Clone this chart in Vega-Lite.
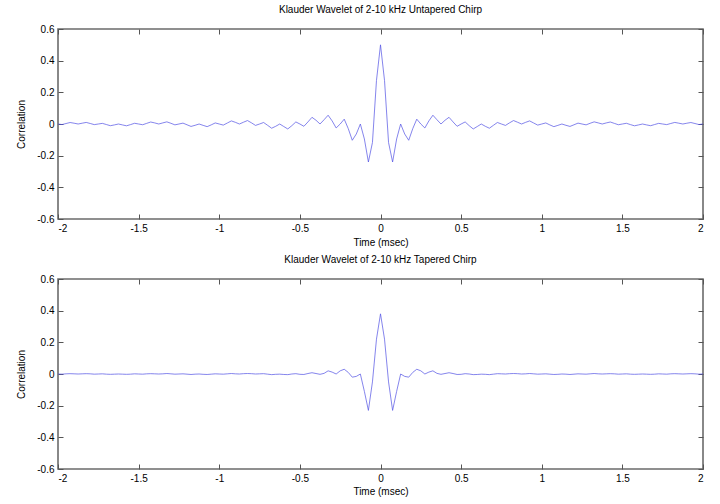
{
  "$schema": "https://vega.github.io/schema/vega-lite/v6.json",
  "background": "white",
  "padding": {"left": 15, "top": 4, "right": 0, "bottom": 0},
  "spacing": 6,
  "config": {
    "font": "Liberation Sans",
    "view": {"stroke": "#6b6b6b", "strokeWidth": 1.6},
    "axis": {
      "domain": false,
      "grid": false,
      "ticks": true,
      "tickSize": -5,
      "tickColor": "#555555",
      "tickWidth": 1,
      "labelPadding": 9,
      "labelFontSize": 10,
      "labelColor": "#000000",
      "labelFont": "Liberation Sans",
      "titleFont": "Liberation Sans",
      "titleFontSize": 10,
      "titleFontWeight": "normal",
      "titleColor": "#000000"
    },
    "title": {"fontSize": 10, "fontWeight": "normal", "font": "Liberation Sans", "offset": 9}
  },
  "datasets": {
    "wave": [
      {"t": -2, "u": 0, "p": 0},
      {"t": -1.975, "u": -0.0035, "p": -0.001},
      {"t": -1.95, "u": 0.003, "p": 0.001},
      {"t": -1.925, "u": 0.0093, "p": 0.002},
      {"t": -1.9, "u": 0.005, "p": 0.001},
      {"t": -1.875, "u": 0, "p": 0},
      {"t": -1.85, "u": 0.0051, "p": 0.001},
      {"t": -1.825, "u": 0.0099, "p": 0.002},
      {"t": -1.8, "u": 0.0032, "p": 0.001},
      {"t": -1.775, "u": -0.0039, "p": -0.001},
      {"t": -1.75, "u": 0, "p": 0},
      {"t": -1.725, "u": 0.004, "p": 0.001},
      {"t": -1.7, "u": -0.0034, "p": -0.001},
      {"t": -1.675, "u": -0.0107, "p": -0.002},
      {"t": -1.65, "u": -0.0057, "p": -0.001},
      {"t": -1.625, "u": 0, "p": 0},
      {"t": -1.6, "u": -0.0059, "p": -0.001},
      {"t": -1.575, "u": -0.0114, "p": -0.002},
      {"t": -1.55, "u": -0.0038, "p": -0.001},
      {"t": -1.525, "u": 0.0045, "p": 0.001},
      {"t": -1.5, "u": 0, "p": 0},
      {"t": -1.475, "u": -0.0047, "p": -0.001},
      {"t": -1.45, "u": 0.004, "p": 0.001},
      {"t": -1.425, "u": 0.0126, "p": 0.002},
      {"t": -1.4, "u": 0.0068, "p": 0.001},
      {"t": -1.375, "u": 0, "p": 0},
      {"t": -1.35, "u": 0.007, "p": 0.001},
      {"t": -1.325, "u": 0.0136, "p": 0.003},
      {"t": -1.3, "u": 0.0045, "p": 0.001},
      {"t": -1.275, "u": -0.0054, "p": -0.001},
      {"t": -1.25, "u": 0, "p": 0},
      {"t": -1.225, "u": 0.0056, "p": 0.001},
      {"t": -1.2, "u": -0.0049, "p": -0.001},
      {"t": -1.175, "u": -0.0153, "p": -0.003},
      {"t": -1.15, "u": -0.0082, "p": -0.001},
      {"t": -1.125, "u": 0, "p": 0},
      {"t": -1.1, "u": -0.0086, "p": -0.002},
      {"t": -1.075, "u": -0.0167, "p": -0.003},
      {"t": -1.05, "u": -0.0056, "p": -0.001},
      {"t": -1.025, "u": 0.0067, "p": 0.001},
      {"t": -1, "u": 0, "p": 0},
      {"t": -0.975, "u": -0.007, "p": -0.001},
      {"t": -0.95, "u": 0.0062, "p": 0.001},
      {"t": -0.925, "u": 0.0195, "p": 0.003},
      {"t": -0.9, "u": 0.0105, "p": 0.001},
      {"t": -0.875, "u": 0, "p": 0},
      {"t": -0.85, "u": 0.0111, "p": 0.002},
      {"t": -0.825, "u": 0.0218, "p": 0.003},
      {"t": -0.8, "u": 0.0073, "p": 0.002},
      {"t": -0.775, "u": -0.0089, "p": 0},
      {"t": -0.75, "u": 0, "p": 0.001},
      {"t": -0.725, "u": 0.0095, "p": 0.002},
      {"t": -0.7, "u": -0.0084, "p": -0.001},
      {"t": -0.675, "u": -0.0267, "p": -0.004},
      {"t": -0.65, "u": -0.0146, "p": -0.002},
      {"t": -0.625, "u": 0, "p": -0.001},
      {"t": -0.6, "u": -0.0158, "p": -0.003},
      {"t": -0.575, "u": -0.0313, "p": -0.004},
      {"t": -0.55, "u": -0.0106, "p": 0},
      {"t": -0.525, "u": 0.0131, "p": 0.002},
      {"t": -0.5, "u": 0, "p": -0.002},
      {"t": -0.475, "u": -0.0145, "p": -0.003},
      {"t": -0.45, "u": 0.013, "p": 0.003},
      {"t": -0.425, "u": 0.0423, "p": 0.008},
      {"t": -0.4, "u": 0.0236, "p": 0.003},
      {"t": -0.375, "u": 0, "p": -0.002},
      {"t": -0.35, "u": 0.027, "p": 0.004},
      {"t": -0.325, "u": 0.0554, "p": 0.02},
      {"t": -0.3, "u": 0.0195, "p": 0.012},
      {"t": -0.275, "u": -0.025, "p": 0},
      {"t": -0.25, "u": 0, "p": 0.02},
      {"t": -0.225, "u": 0.0305, "p": 0.03},
      {"t": -0.2, "u": -0.0292, "p": 0.01},
      {"t": -0.175, "u": -0.1028, "p": -0.02},
      {"t": -0.15, "u": -0.0631, "p": -0.015},
      {"t": -0.125, "u": 0, "p": 0},
      {"t": -0.1, "u": -0.0946, "p": -0.11},
      {"t": -0.075, "u": -0.24, "p": -0.23},
      {"t": -0.05, "u": -0.117, "p": -0.05},
      {"t": -0.025, "u": 0.275, "p": 0.22},
      {"t": 0, "u": 0.5, "p": 0.38},
      {"t": 0.025, "u": 0.275, "p": 0.22},
      {"t": 0.05, "u": -0.117, "p": -0.05},
      {"t": 0.075, "u": -0.24, "p": -0.23},
      {"t": 0.1, "u": -0.0946, "p": -0.11},
      {"t": 0.125, "u": 0, "p": 0},
      {"t": 0.15, "u": -0.0631, "p": -0.015},
      {"t": 0.175, "u": -0.1028, "p": -0.02},
      {"t": 0.2, "u": -0.0292, "p": 0.01},
      {"t": 0.225, "u": 0.0305, "p": 0.03},
      {"t": 0.25, "u": 0, "p": 0.02},
      {"t": 0.275, "u": -0.025, "p": 0},
      {"t": 0.3, "u": 0.0195, "p": 0.012},
      {"t": 0.325, "u": 0.0554, "p": 0.02},
      {"t": 0.35, "u": 0.027, "p": 0.004},
      {"t": 0.375, "u": 0, "p": -0.002},
      {"t": 0.4, "u": 0.0236, "p": 0.003},
      {"t": 0.425, "u": 0.0423, "p": 0.008},
      {"t": 0.45, "u": 0.013, "p": 0.003},
      {"t": 0.475, "u": -0.0145, "p": -0.003},
      {"t": 0.5, "u": 0, "p": -0.002},
      {"t": 0.525, "u": 0.0131, "p": 0.002},
      {"t": 0.55, "u": -0.0106, "p": 0},
      {"t": 0.575, "u": -0.0313, "p": -0.004},
      {"t": 0.6, "u": -0.0158, "p": -0.003},
      {"t": 0.625, "u": 0, "p": -0.001},
      {"t": 0.65, "u": -0.0146, "p": -0.002},
      {"t": 0.675, "u": -0.0267, "p": -0.004},
      {"t": 0.7, "u": -0.0084, "p": -0.001},
      {"t": 0.725, "u": 0.0095, "p": 0.002},
      {"t": 0.75, "u": 0, "p": 0.001},
      {"t": 0.775, "u": -0.0089, "p": 0},
      {"t": 0.8, "u": 0.0073, "p": 0.002},
      {"t": 0.825, "u": 0.0218, "p": 0.003},
      {"t": 0.85, "u": 0.0111, "p": 0.002},
      {"t": 0.875, "u": 0, "p": 0},
      {"t": 0.9, "u": 0.0105, "p": 0.001},
      {"t": 0.925, "u": 0.0195, "p": 0.003},
      {"t": 0.95, "u": 0.0062, "p": 0.001},
      {"t": 0.975, "u": -0.007, "p": -0.001},
      {"t": 1, "u": 0, "p": 0},
      {"t": 1.025, "u": 0.0067, "p": 0.001},
      {"t": 1.05, "u": -0.0056, "p": -0.001},
      {"t": 1.075, "u": -0.0167, "p": -0.003},
      {"t": 1.1, "u": -0.0086, "p": -0.002},
      {"t": 1.125, "u": 0, "p": 0},
      {"t": 1.15, "u": -0.0082, "p": -0.001},
      {"t": 1.175, "u": -0.0153, "p": -0.003},
      {"t": 1.2, "u": -0.0049, "p": -0.001},
      {"t": 1.225, "u": 0.0056, "p": 0.001},
      {"t": 1.25, "u": 0, "p": 0},
      {"t": 1.275, "u": -0.0054, "p": -0.001},
      {"t": 1.3, "u": 0.0045, "p": 0.001},
      {"t": 1.325, "u": 0.0136, "p": 0.003},
      {"t": 1.35, "u": 0.007, "p": 0.001},
      {"t": 1.375, "u": 0, "p": 0},
      {"t": 1.4, "u": 0.0068, "p": 0.001},
      {"t": 1.425, "u": 0.0126, "p": 0.002},
      {"t": 1.45, "u": 0.004, "p": 0.001},
      {"t": 1.475, "u": -0.0047, "p": -0.001},
      {"t": 1.5, "u": 0, "p": 0},
      {"t": 1.525, "u": 0.0045, "p": 0.001},
      {"t": 1.55, "u": -0.0038, "p": -0.001},
      {"t": 1.575, "u": -0.0114, "p": -0.002},
      {"t": 1.6, "u": -0.0059, "p": -0.001},
      {"t": 1.625, "u": 0, "p": 0},
      {"t": 1.65, "u": -0.0057, "p": -0.001},
      {"t": 1.675, "u": -0.0107, "p": -0.002},
      {"t": 1.7, "u": -0.0034, "p": -0.001},
      {"t": 1.725, "u": 0.004, "p": 0.001},
      {"t": 1.75, "u": 0, "p": 0},
      {"t": 1.775, "u": -0.0039, "p": -0.001},
      {"t": 1.8, "u": 0.0032, "p": 0.001},
      {"t": 1.825, "u": 0.0099, "p": 0.002},
      {"t": 1.85, "u": 0.0051, "p": 0.001},
      {"t": 1.875, "u": 0, "p": 0},
      {"t": 1.9, "u": 0.005, "p": 0.001},
      {"t": 1.925, "u": 0.0093, "p": 0.002},
      {"t": 1.95, "u": 0.003, "p": 0.001},
      {"t": 1.975, "u": -0.0035, "p": -0.001},
      {"t": 2, "u": 0, "p": 0}
    ]
  },
  "vconcat": [
    {
      "title": "Klauder Wavelet of 2-10 kHz Untapered Chirp",
      "width": 645,
      "height": 190,
      "data": {"name": "wave"},
      "layer": [
        {
          "mark": {"type": "line", "color": "#5050e4", "strokeWidth": 0.7},
          "encoding": {
            "x": {"field": "t", "type": "quantitative", "scale": {"domain": [-2, 2], "nice": false},
                  "axis": {"orient": "bottom", "title": "Time (msec)", "titlePadding": 4, "labelFlush": true, "values": [-2, -1.5, -1, -0.5, 0, 0.5, 1, 1.5, 2], "labelExpr": "'' + datum.value"}},
            "y": {"field": "u", "type": "quantitative", "scale": {"domain": [-0.6, 0.6], "nice": false},
                  "axis": {"orient": "left", "title": "Correlation", "titlePadding": 10, "values": [-0.6, -0.4, -0.2, 0, 0.2, 0.4, 0.6], "labelExpr": "'' + datum.value"}}
          }
        },
        {
          "mark": {"type": "line", "opacity": 0},
          "encoding": {
            "x": {"field": "t", "type": "quantitative", "scale": {"domain": [-2, 2], "nice": false},
                  "axis": {"orient": "top", "labels": false, "title": null, "values": [-2, -1.5, -1, -0.5, 0, 0.5, 1, 1.5, 2]}},
            "y": {"field": "u", "type": "quantitative", "scale": {"domain": [-0.6, 0.6], "nice": false},
                  "axis": {"orient": "right", "labels": false, "title": null, "values": [-0.6, -0.4, -0.2, 0, 0.2, 0.4, 0.6]}}
          }
        }
      ],
      "resolve": {"axis": {"x": "independent", "y": "independent"}}
    },
    {
      "title": "Klauder Wavelet of 2-10 kHz Tapered Chirp",
      "width": 645,
      "height": 190,
      "data": {"name": "wave"},
      "layer": [
        {
          "mark": {"type": "line", "color": "#5050e4", "strokeWidth": 0.7},
          "encoding": {
            "x": {"field": "t", "type": "quantitative", "scale": {"domain": [-2, 2], "nice": false},
                  "axis": {"orient": "bottom", "title": "Time (msec)", "titlePadding": 3, "labelFlush": true, "values": [-2, -1.5, -1, -0.5, 0, 0.5, 1, 1.5, 2], "labelExpr": "'' + datum.value"}},
            "y": {"field": "p", "type": "quantitative", "scale": {"domain": [-0.6, 0.6], "nice": false},
                  "axis": {"orient": "left", "title": "Correlation", "titlePadding": 10, "values": [-0.6, -0.4, -0.2, 0, 0.2, 0.4, 0.6], "labelExpr": "'' + datum.value"}}
          }
        },
        {
          "mark": {"type": "line", "opacity": 0},
          "encoding": {
            "x": {"field": "t", "type": "quantitative", "scale": {"domain": [-2, 2], "nice": false},
                  "axis": {"orient": "top", "labels": false, "title": null, "values": [-2, -1.5, -1, -0.5, 0, 0.5, 1, 1.5, 2]}},
            "y": {"field": "p", "type": "quantitative", "scale": {"domain": [-0.6, 0.6], "nice": false},
                  "axis": {"orient": "right", "labels": false, "title": null, "values": [-0.6, -0.4, -0.2, 0, 0.2, 0.4, 0.6]}}
          }
        }
      ],
      "resolve": {"axis": {"x": "independent", "y": "independent"}}
    }
  ]
}
